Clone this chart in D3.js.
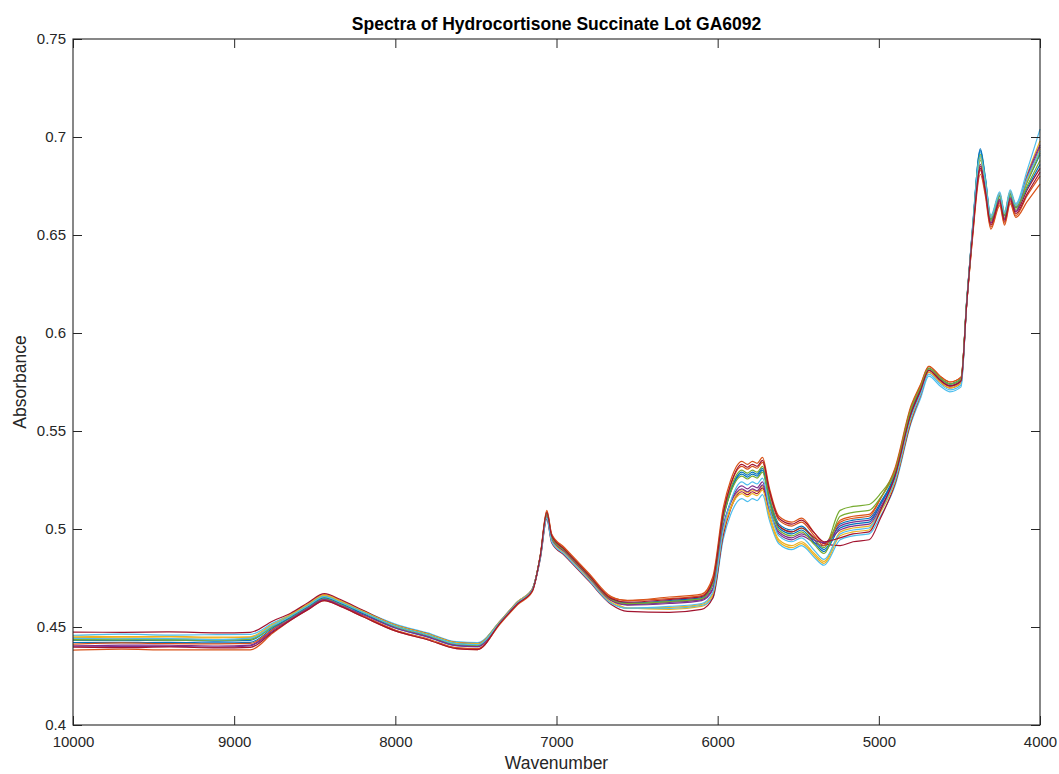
<!DOCTYPE html>
<html>
<head>
<meta charset="utf-8">
<script src="https://cdn.jsdelivr.net/npm/d3@7"></script>
<style>
  html, body { margin: 0; padding: 0; background: #fff; }
  svg { display: block; font-family: "Liberation Sans", Arial, Helvetica, sans-serif; }
</style>
</head>
<body>
<svg id="chart" width="1059" height="774"></svg>
<script>
// Wavenumber grid (cm^-1), high to low
const wavenumber = [10000, 9700, 9400, 9100, 8900, 8760, 8650, 8540, 8440, 8340,
  8200, 8000, 7800, 7620, 7490, 7350, 7240, 7150, 7100, 7060,
  7030, 6950, 6800, 6660, 6560, 6300, 6100, 6030, 5965, 5920,
  5850, 5815, 5785, 5755, 5722, 5680, 5620, 5540, 5480, 5400,
  5340, 5240, 5160, 5060, 4990, 4900, 4800, 4740, 4690, 4620,
  4560, 4490, 4455, 4420, 4370, 4340, 4305, 4250, 4220, 4185,
  4150, 4080, 4000];

// Absorbance of each measured spectrum on the grid above
const spectrum01 = [0.4432,0.4430,0.4433,0.4428,0.4432,0.4505,0.4560,0.4615,0.4660,0.4630,
  0.45775,0.4505,0.4460,0.4415,0.4410,0.4525,0.4625,0.4690,0.4865,0.5080,
  0.4960,0.4895,0.4765,0.4645,0.4622,0.4630,0.4645,0.4715,0.5050,0.5190,
  0.5290,0.5275,0.5290,0.5280,0.5310,0.5165,0.5025,0.4995,0.5015,0.4945,
  0.4895,0.5025,0.5045,0.5055,0.5135,0.5280,0.5600,0.5720,0.5820,0.5770,
  0.5740,0.5765,0.6160,0.6510,0.6940,0.6800,0.6590,0.6710,0.6610,0.6720,
  0.6650,0.6770,0.6910];
const spectrum02 = [0.4382,0.4387,0.4383,0.4383,0.4383,0.4469,0.4535,0.4590,0.4635,0.4605,
  0.45525,0.4480,0.4435,0.4390,0.4385,0.4515,0.4615,0.4680,0.4865,0.5090,
  0.4970,0.4900,0.4770,0.4650,0.4636,0.4653,0.4668,0.47565,0.5110,0.52475,
  0.5345,0.5330,0.5345,0.5335,0.5365,0.52125,0.5065,0.5035,0.5055,0.4980,
  0.4925,0.5035,0.5055,0.5065,0.5155,0.5310,0.5630,0.5740,0.5830,0.5780,
  0.5750,0.5775,0.6145,0.6470,0.6810,0.6705,0.6530,0.6650,0.6550,0.6660,
  0.6590,0.6670,0.6760];
const spectrum03 = [0.4453,0.4451,0.4452,0.4448,0.4450,0.45175,0.4565,0.4620,0.4665,0.4635,
  0.45825,0.4510,0.4465,0.4420,0.4415,0.4525,0.4625,0.4690,0.4860,0.5070,
  0.4950,0.4885,0.4755,0.4635,0.4597,0.4590,0.4605,0.4660,0.4980,0.5110,
  0.5200,0.5185,0.5200,0.5190,0.5220,0.5080,0.4945,0.4915,0.4935,0.4875,
  0.4835,0.4985,0.5005,0.5015,0.5100,0.5250,0.5570,0.5700,0.5810,0.5760,
  0.5730,0.5755,0.6160,0.6520,0.6900,0.6780,0.6590,0.6710,0.6610,0.6720,
  0.6650,0.6810,0.6980];
const spectrum04 = [0.4403,0.4408,0.4407,0.4403,0.4408,0.44875,0.4550,0.4605,0.4650,0.4620,
  0.4575,0.4510,0.4465,0.4420,0.4415,0.4530,0.4630,0.4695,0.48575,0.5060,
  0.4940,0.4885,0.4755,0.4635,0.4612,0.4620,0.4635,0.4690,0.5010,0.5135,
  0.5220,0.5205,0.5220,0.5210,0.5240,0.5105,0.4975,0.4945,0.4965,0.4930,
  0.4915,0.5015,0.5035,0.5045,0.5125,0.5270,0.5590,0.5710,0.5810,0.5760,
  0.5730,0.5755,0.6155,0.6510,0.6860,0.6755,0.6580,0.6700,0.6600,0.6710,
  0.6640,0.6790,0.6950];
const spectrum05 = [0.4436,0.4434,0.4436,0.4435,0.4437,0.4500,0.4545,0.4600,0.4645,0.4615,
  0.45675,0.4500,0.4455,0.4410,0.4405,0.4525,0.4625,0.4690,0.4865,0.5080,
  0.4960,0.4890,0.4760,0.4640,0.46195,0.4630,0.4645,0.4725,0.5070,0.5205,
  0.5300,0.5285,0.5300,0.5290,0.5320,0.5165,0.5015,0.4985,0.5005,0.4945,
  0.4905,0.5095,0.5115,0.5125,0.5180,0.5300,0.5620,0.5730,0.5820,0.5770,
  0.5740,0.5765,0.6155,0.6500,0.6880,0.6760,0.6570,0.6690,0.6590,0.6700,
  0.6630,0.6770,0.6920];
const spectrum06 = [0.4458,0.4464,0.4459,0.4461,0.4462,0.4520,0.4560,0.4615,0.4660,0.4630,
  0.45825,0.4515,0.4470,0.4425,0.4420,0.4530,0.4630,0.4695,0.48575,0.5060,
  0.4940,0.4875,0.4745,0.4625,0.45945,0.4595,0.4610,0.46475,0.4950,0.50725,
  0.5155,0.5140,0.5155,0.5145,0.5175,0.50475,0.4925,0.4895,0.4915,0.4855,
  0.4815,0.4945,0.4965,0.4975,0.5065,0.5220,0.5540,0.5670,0.5780,0.5730,
  0.5700,0.5725,0.6150,0.6530,0.6920,0.6795,0.6600,0.6720,0.6620,0.6730,
  0.6660,0.6830,0.7040];
const spectrum07 = [0.4474,0.4473,0.4475,0.4470,0.4473,0.4531,0.4570,0.4625,0.4670,0.4640,
  0.4585,0.4510,0.4465,0.4420,0.4415,0.4525,0.4625,0.4690,0.4850,0.5050,
  0.4930,0.4865,0.4735,0.4615,0.45795,0.4575,0.4590,0.46475,0.4970,0.5100,
  0.5190,0.5175,0.5190,0.5180,0.5210,0.5110,0.5015,0.4985,0.5005,0.4955,
  0.4925,0.4915,0.4935,0.4945,0.5055,0.5230,0.5550,0.5685,0.5800,0.5750,
  0.5720,0.5745,0.6145,0.6500,0.6850,0.6740,0.6560,0.6680,0.6580,0.6690,
  0.6620,0.6730,0.6840];
const spectrum08 = [0.4421,0.4420,0.4422,0.4419,0.4422,0.4495,0.4550,0.4605,0.4650,0.4620,
  0.45675,0.4495,0.4450,0.4405,0.4400,0.4525,0.4625,0.4690,0.48625,0.5075,
  0.4955,0.4890,0.4760,0.4640,0.4622,0.4635,0.4650,0.47225,0.5060,0.5190,
  0.5280,0.5265,0.5280,0.5270,0.5300,0.5150,0.5005,0.4975,0.4995,0.4930,
  0.4885,0.5005,0.5025,0.5035,0.5125,0.5280,0.5600,0.5720,0.5820,0.5770,
  0.5740,0.5765,0.6165,0.6520,0.6930,0.6790,0.6580,0.6700,0.6600,0.6710,
  0.6640,0.6740,0.6860];
const spectrum09 = [0.4413,0.4419,0.4415,0.4414,0.4416,0.44875,0.4540,0.4595,0.4640,0.4610,
  0.45575,0.4485,0.4440,0.4395,0.4390,0.4520,0.4620,0.4685,0.4870,0.5095,
  0.4975,0.4905,0.4775,0.4655,0.46345,0.4645,0.4660,0.47425,0.5090,0.5225,
  0.5320,0.5305,0.5320,0.5310,0.5340,0.5190,0.5045,0.5015,0.5035,0.4965,
  0.4915,0.5045,0.5065,0.5075,0.5155,0.5300,0.5620,0.5735,0.5830,0.5780,
  0.5750,0.5775,0.6150,0.6480,0.6830,0.6720,0.6540,0.6660,0.6560,0.6670,
  0.6600,0.6700,0.6800];
const spectrum10 = [0.4446,0.4445,0.4444,0.4445,0.4447,0.45125,0.4560,0.4615,0.4660,0.4630,
  0.4580,0.4510,0.4465,0.4420,0.4415,0.4530,0.4630,0.4695,0.4860,0.5065,
  0.4945,0.4875,0.4745,0.4625,0.4597,0.4600,0.4615,0.4670,0.4990,0.5105,
  0.5180,0.5165,0.5180,0.5170,0.5200,0.5065,0.4935,0.4905,0.4925,0.4865,
  0.4825,0.4965,0.4985,0.4995,0.5085,0.5240,0.5560,0.5690,0.5800,0.5750,
  0.5720,0.5745,0.6150,0.6510,0.6890,0.6775,0.6590,0.6710,0.6610,0.6720,
  0.6650,0.6780,0.6940];
const spectrum11 = [0.4403,0.4401,0.4401,0.4397,0.4404,0.4480,0.4540,0.4595,0.4640,0.4610,
  0.45625,0.4495,0.4450,0.4405,0.4400,0.4525,0.4625,0.4690,0.4860,0.5070,
  0.4950,0.4885,0.4755,0.4635,0.46145,0.4625,0.4640,0.46975,0.5020,0.51325,
  0.5205,0.5190,0.5205,0.5195,0.5225,0.51025,0.4985,0.4955,0.4975,0.49425,
  0.4930,0.4995,0.5015,0.5025,0.5110,0.5260,0.5580,0.5705,0.5810,0.5760,
  0.5730,0.5755,0.6150,0.6500,0.6840,0.6735,0.6560,0.6680,0.6580,0.6690,
  0.6620,0.6800,0.6960];
const spectrum12 = [0.4434,0.4438,0.4433,0.4433,0.4438,0.4505,0.4555,0.4610,0.4655,0.4625,
  0.4575,0.4505,0.4460,0.4415,0.4410,0.4525,0.4625,0.4690,0.48625,0.5075,
  0.4955,0.4890,0.4760,0.4640,0.46195,0.4630,0.4645,0.4720,0.5060,0.5185,
  0.5270,0.5255,0.5270,0.5260,0.5290,0.5140,0.4995,0.4965,0.4985,0.4920,
  0.4875,0.5065,0.5085,0.5095,0.5160,0.5290,0.5610,0.5725,0.5820,0.5770,
  0.5740,0.5765,0.6160,0.6510,0.6910,0.6780,0.6580,0.6700,0.6600,0.6710,
  0.6640,0.6750,0.6880];
const spectrum13 = [0.4442,0.4440,0.4441,0.4436,0.4443,0.45075,0.4555,0.4610,0.4655,0.4625,
  0.4575,0.4505,0.4460,0.4415,0.4410,0.4525,0.4625,0.4690,0.48525,0.5055,
  0.4935,0.4870,0.4740,0.4620,0.4597,0.4605,0.4620,0.46775,0.5000,0.5140,
  0.5240,0.5225,0.5240,0.5230,0.5260,0.5110,0.4965,0.4935,0.4955,0.4890,
  0.4845,0.4975,0.4995,0.5005,0.5095,0.5250,0.5570,0.5690,0.5790,0.5740,
  0.5710,0.5735,0.6150,0.6520,0.6900,0.6780,0.6590,0.6710,0.6610,0.6720,
  0.6650,0.6790,0.6930];
const spectrum14 = [0.4397,0.4395,0.4398,0.4393,0.4396,0.4475,0.4535,0.4590,0.4635,0.4605,
  0.45525,0.4480,0.4435,0.4390,0.4385,0.4520,0.4620,0.4685,0.4865,0.5085,
  0.4965,0.4895,0.4765,0.4645,0.4627,0.4640,0.4655,0.4735,0.5080,0.5225,
  0.5330,0.5315,0.5330,0.5320,0.5350,0.5200,0.5055,0.5025,0.5045,0.4980,
  0.4935,0.4955,0.4975,0.4985,0.5095,0.5270,0.5590,0.5710,0.5810,0.5760,
  0.5730,0.5755,0.6145,0.6490,0.6840,0.6730,0.6550,0.6670,0.6570,0.6680,
  0.6610,0.6710,0.6820];

const spectra = [spectrum01, spectrum02, spectrum03, spectrum04, spectrum05, spectrum06, spectrum07,
  spectrum08, spectrum09, spectrum10, spectrum11, spectrum12, spectrum13, spectrum14];

// Line colour cycle
const lineColors = ["#0072BD", "#D95319", "#EDB120", "#7E2F8E", "#77AC30", "#4DBEEE", "#A2142F"];

const xTicks = [10000, 9000, 8000, 7000, 6000, 5000, 4000];
const yTicks = [0.4, 0.45, 0.5, 0.55, 0.6, 0.65, 0.7, 0.75];

const titleText = "Spectra of Hydrocortisone Succinate Lot GA6092";
const xLabel = "Wavenumber";
const yLabel = "Absorbance";

(function draw() {
  // plot area
  const plotLeft = 73, plotRight = 1040, plotTop = 39, plotBottom = 725;
  const axisColor = "#262626";

  const svg = d3.select("#chart");
  svg.append("rect").attr("width", 1059).attr("height", 774).attr("fill", "#fff");

  const x = d3.scaleLinear().domain([10000, 4000]).range([plotLeft, plotRight]);
  const y = d3.scaleLinear().domain([0.4, 0.75]).range([plotBottom, plotTop]);

  // spectra
  const line = d3.line()
    .x((d, i) => x(wavenumber[i]))
    .y(d => y(d))
    .curve(d3.curveMonotoneX);

  svg.append("g")
    .attr("fill", "none")
    .attr("stroke-width", 1.2)
    .attr("stroke-linejoin", "round")
    .selectAll("path")
    .data(spectra)
    .join("path")
    .attr("stroke", (d, i) => lineColors[i % lineColors.length])
    .attr("d", line);

  // axes with inward ticks on all four sides
  const fmt = d => String(+d.toFixed(2));
  const tickLen = 9;

  const gBottom = svg.append("g").attr("transform", `translate(0,${plotBottom})`)
    .call(d3.axisBottom(x).tickValues(xTicks).tickFormat(d3.format("d"))
      .tickSizeInner(-tickLen).tickSizeOuter(0).tickPadding(11));
  const gTop = svg.append("g").attr("transform", `translate(0,${plotTop})`)
    .call(d3.axisTop(x).tickValues(xTicks).tickFormat("")
      .tickSizeInner(-tickLen).tickSizeOuter(0));
  const gLeft = svg.append("g").attr("transform", `translate(${plotLeft},0)`)
    .call(d3.axisLeft(y).tickValues(yTicks).tickFormat(fmt)
      .tickSizeInner(-tickLen).tickSizeOuter(0).tickPadding(7));
  const gRight = svg.append("g").attr("transform", `translate(${plotRight},0)`)
    .call(d3.axisRight(y).tickValues(yTicks).tickFormat("")
      .tickSizeInner(-tickLen).tickSizeOuter(0));

  [gBottom, gTop, gLeft, gRight].forEach(g => {
    g.select(".domain").remove();
    g.selectAll(".tick line").attr("stroke", axisColor).attr("stroke-width", 1);
    g.selectAll(".tick text")
      .attr("fill", axisColor)
      .style("font-size", "15px")
      .style("font-family", '"Liberation Sans", Arial, sans-serif');
  });

  // axes box
  svg.append("rect")
    .attr("x", plotLeft).attr("y", plotTop)
    .attr("width", plotRight - plotLeft).attr("height", plotBottom - plotTop)
    .attr("fill", "none").attr("stroke", axisColor).attr("stroke-width", 1.1);

  // title and labels
  svg.append("text")
    .attr("x", (plotLeft + plotRight) / 2).attr("y", 30)
    .attr("text-anchor", "middle")
    .attr("fill", "#000")
    .style("font-size", "17.5px").style("font-weight", "bold")
    .text(titleText);

  svg.append("text")
    .attr("x", (plotLeft + plotRight) / 2).attr("y", 769)
    .attr("text-anchor", "middle")
    .attr("fill", axisColor)
    .style("font-size", "17.5px")
    .text(xLabel);

  svg.append("text")
    .attr("transform", `translate(26,${(plotTop + plotBottom) / 2}) rotate(-90)`)
    .attr("text-anchor", "middle")
    .attr("fill", axisColor)
    .style("font-size", "17.5px")
    .text(yLabel);
})();
</script>
</body>
</html>
